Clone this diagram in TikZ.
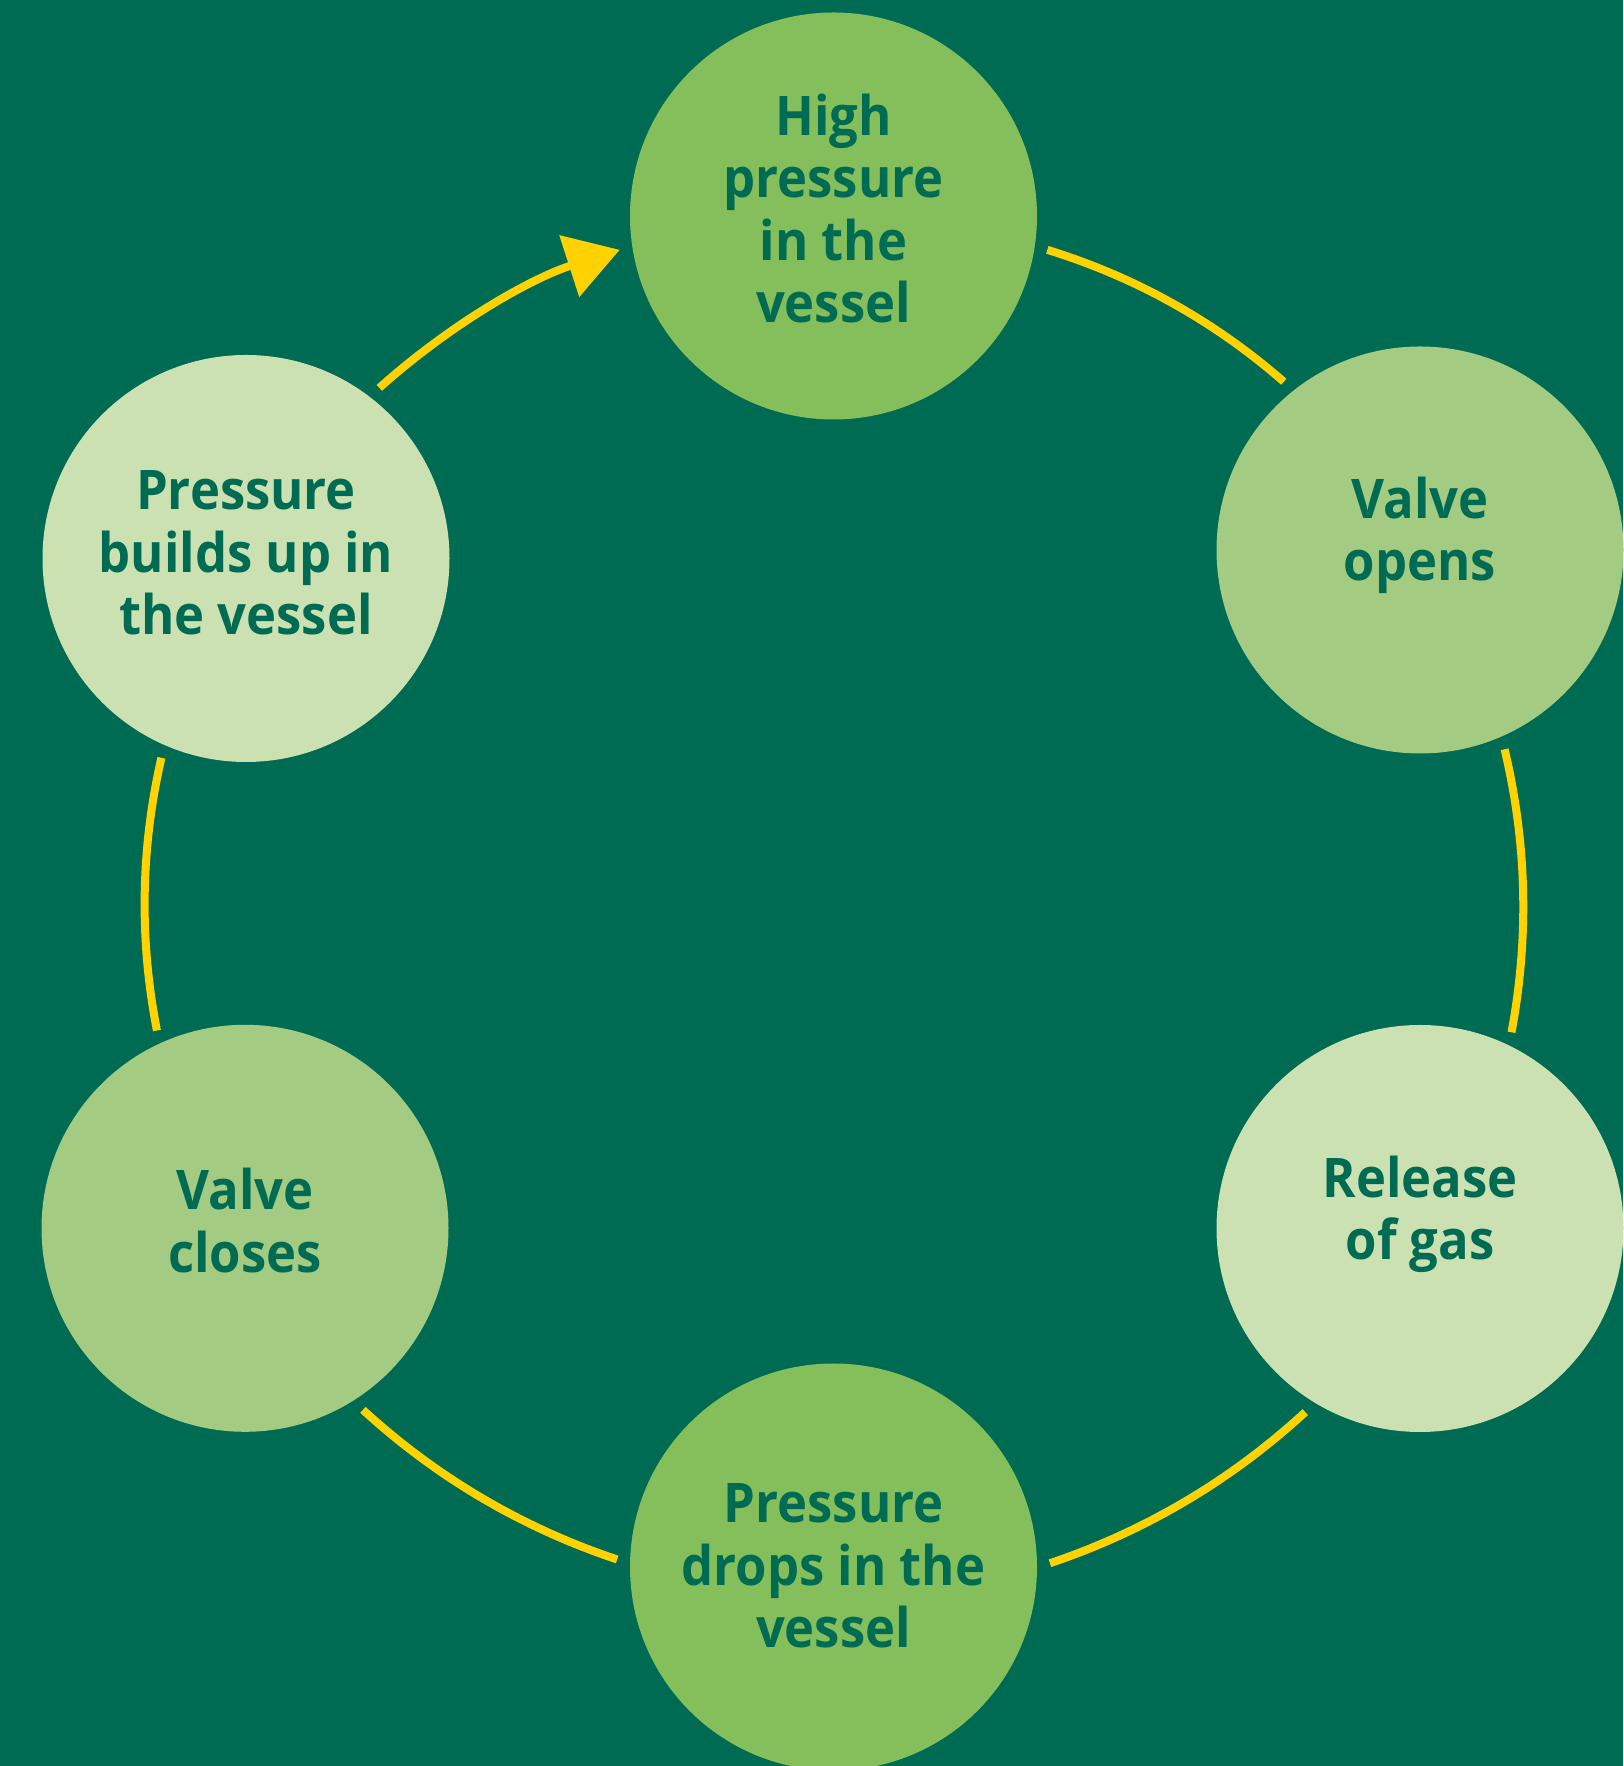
\documentclass[tikz,border=0pt]{standalone}
\usepackage{fontspec}
\setmainfont{Open Sans}[FakeStretch=0.93]
\usetikzlibrary{arrows.meta}
\definecolor{vesselgreen}{HTML}{006B53}
\definecolor{stagedark}{HTML}{85BF5B}
\definecolor{stagemid}{HTML}{A3CB82}
\definecolor{stagelight}{HTML}{CBE1B1}
\definecolor{cycleyellow}{HTML}{FFD200}
\tikzset{
  stage/.style={circle, minimum size=203.5pt, inner sep=0pt, outer sep=6.5pt},
  stagetext/.style={align=center, text=vesselgreen, font=\bfseries\fontsize{27.3}{31.25}\selectfont},
  cycline/.style={draw=cycleyellow, line width=4pt, looseness=0.87}
}

\begin{document}
\begin{tikzpicture}[x=0.5pt, y=0.5pt]
% Background
\fill[vesselgreen] (0,0) rectangle (1623,1766);
\useasboundingbox (0,0) rectangle (1623,1766);

% Stages of the cycle
\node[stage, fill=stagedark] (high) at (833.5,1550) {};
\node[stage, fill=stagemid] (opens) at (1420,1216) {};
\node[stage, fill=stagelight] (release) at (1420,537.5) {};
\node[stage, fill=stagedark] (drops) at (833.5,199) {};
\node[stage, fill=stagemid] (closes) at (245,537.7) {};
\node[stage, fill=stagelight] (builds) at (246,1207.5) {};

% Labels
\node[stagetext] (high-txt) at ([yshift=3.7pt]high) {High\\pressure\\in the\\vessel};
\node[stagetext] (opens-txt) at ([yshift=7.4pt]opens) {Valve\\opens};
\node[stagetext] (release-txt) at ([yshift=7pt]release) {Release\\of gas};
\node[stagetext] (drops-txt) at ([yshift=0.4pt]drops) {Pressure\\drops in the\\vessel};
\node[stagetext] (closes-txt) at ([yshift=3.9pt]closes) {Valve\\closes};
\node[stagetext] (builds-txt) at ([yshift=2.8pt]builds) {Pressure\\builds up in\\the vessel};

% Connectors round the ring
\draw[cycline] (high.-9) to[bend left=12] (opens.129.4);
\draw[cycline] (opens.-67) to[bend left=12] (release.65);
\draw[cycline] (release.-122.7) to[bend left=12] (drops.1.9);
\draw[cycline] (drops.178.2) to[bend left=12] (closes.-57.3);
\draw[cycline] (closes.114.6) to[bend left=12] (builds.-113.6);
\draw[cycline, -{Triangle[length=26.5pt, width=31.5pt]}] (builds.52.7) to[bend left=12] (high.189);
\end{tikzpicture}
\end{document}
